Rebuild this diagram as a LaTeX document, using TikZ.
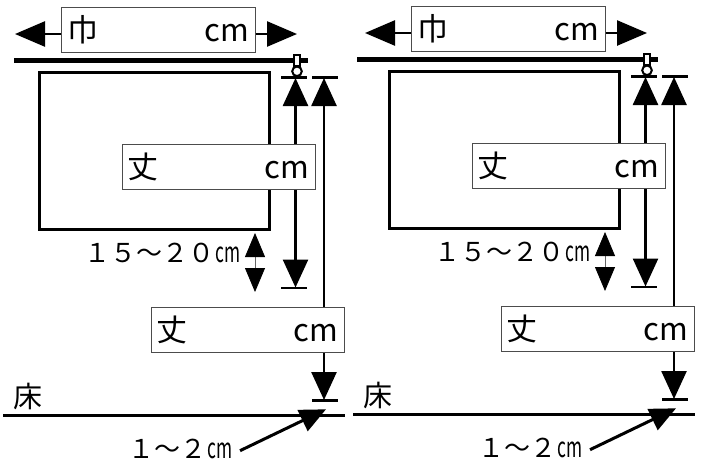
\documentclass[tikz,border=0pt]{standalone}
\usepackage{fontspec}
\setmainfont{Noto Sans CJK JP}
\usetikzlibrary{arrows.meta}
\newcommand{\smallcm}{\hspace{1pt}{\fontsize{28}{28}\selectfont\scalebox{0.62}[1]{cm}}}
\begin{document}
\begin{tikzpicture}[x=1pt,y=-1pt,
  lbox/.style={draw=black!70,line width=1pt,fill=white,inner sep=0pt,
    minimum height=45pt,minimum width=193pt,font=\fontsize{31}{31}\selectfont},
  smalllbl/.style={inner sep=0pt,font=\fontsize{26}{26}\selectfont},
  bigtip/.tip={Triangle[length=30pt,width=25pt]},
  vtip/.tip={Triangle[length=28pt,width=25pt]},
  midtip/.tip={Triangle[length=26pt,width=23pt]},
  smalltip/.tip={Triangle[length=24pt,width=20pt,color=black]},
  vline/.style={line width=2.6pt},
  tickline/.style={line width=2.6pt},
]
\useasboundingbox (0,0) rectangle (703,461);
\foreach \dx/\dy/\rs in {0/0/14, 350/-1/7}{
\begin{scope}[shift={(\dx,\dy)}]
  % rod
  \draw[line width=5pt] (\rs,60.5) -- (308,60.5);
  % picture frame
  \draw[line width=3pt] (39,72) rectangle (269,229);
  % hook
  \draw[line width=2pt,fill=white] (293.6,54.5) rectangle (300,66);
  \draw[line width=2pt,fill=white] (297,71.3) circle (4.8);
  % ticks
  \draw[tickline] (281,77.3) -- (307,77.3);
  \draw[tickline] (281,288) -- (307,288);
  \draw[tickline] (312,77.3) -- (338,77.3);
  \draw[tickline] (312,400.5) -- (337.5,400.5);
  % floor
  \draw[line width=2.8pt] (3,415.5) -- (345,415.5);
  % coordinates
  \coordinate (t1a) at (295.5,78);
  \coordinate (t1b) at (295.5,287.5);
  \coordinate (t2a) at (324,78);
  \coordinate (t2b) at (324,400);
  \coordinate (wl) at (15,34);
  \coordinate (wr) at (297,34);
  \coordinate (sa) at (255,233);
  \coordinate (sb) at (255,292);
  \coordinate (ft) at (326,409.3);
  \coordinate (fs) at (240,450.7);
  % vertical arrows
  \draw[vline,{vtip}-{vtip}] (t1a) -- (t1b);
  \draw[vline,{vtip}-{vtip}] (t2a) -- (t2b);
  % small double arrow
  \draw[line width=0.8pt,black!60,{smalltip}-{smalltip}] (sa) -- (sb);
  % width box and arrows
  \node[lbox,minimum width=194pt] (wb) at (158,29.5) {\makebox[182pt]{巾\hfill cm}};
  \draw[line width=2.6pt,-{bigtip}] (wb.west |- wl) -- (wl);
  \draw[line width=2.6pt,-{bigtip}] (wb.east |- wr) -- (wr);
  % length boxes
  \node[lbox] (h1) at (218.5,166.5) {\makebox[182pt]{丈\hfill cm}};
  \node[lbox] (h2) at (247.5,329.5) {\makebox[182pt]{丈\hfill cm}};
  % labels
  \node[smalllbl,anchor=east] (l15) at (241,253) {１５～２０\smallcm};
  \node[inner sep=0pt,anchor=west,font=\fontsize{29}{29}\selectfont] (floor) at (13,396) {床};
  \node[smalllbl,anchor=east] (l12) at (233,449) {１～２\smallcm};
  \draw[line width=3pt,-{midtip}] (fs) -- (ft);
\end{scope}
}
\end{tikzpicture}
\end{document}
